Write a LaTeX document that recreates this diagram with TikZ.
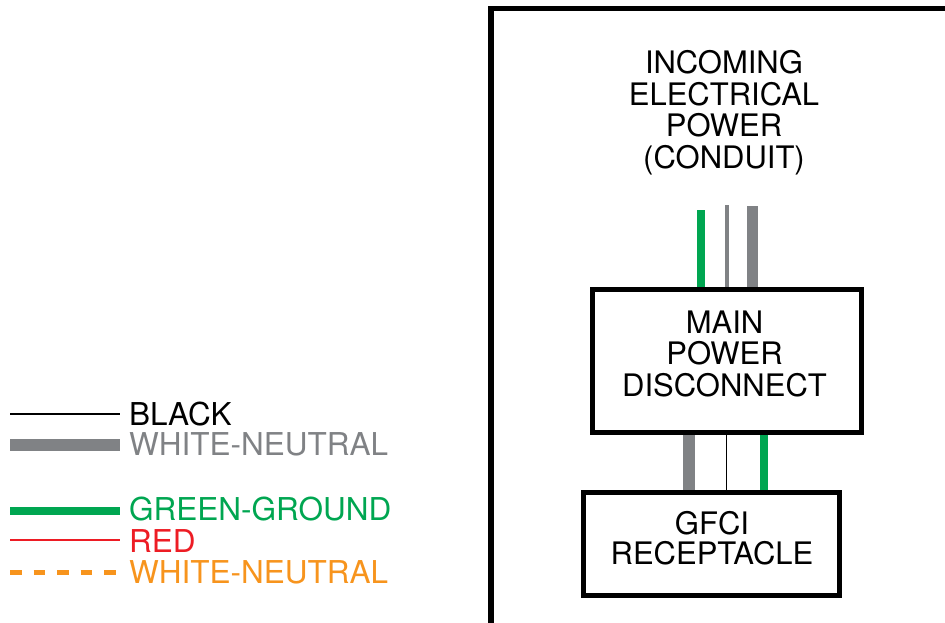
\documentclass[tikz,border=0pt]{standalone}
\usepackage{fontspec}
\setmainfont{TeX Gyre Heros}
\definecolor{wgray}{HTML}{808285}
\definecolor{wgreen}{HTML}{00A651}
\definecolor{wred}{HTML}{ED1C24}
\definecolor{worange}{HTML}{F7941D}
\tikzset{
  lbl/.style={inner sep=0pt, align=center},
  legtext/.style={inner sep=0pt, anchor=west, font=\fontsize{31.5}{32}\selectfont},
  boxnode/.style={draw=black, line width=5pt, inner sep=0pt},
  blackwire/.style={draw=black, line width=1.6pt},
  thingray/.style={draw=wgray, line width=4pt},
  graywire/.style={draw=wgray, line width=11.5pt},
  greenwire/.style={draw=wgreen, line width=8pt},
  redwire/.style={draw=wred, line width=2pt},
  orangewire/.style={draw=worange, line width=5pt, dash pattern=on 11.5pt off 12pt},
}
\begin{document}
\begin{tikzpicture}[x=1pt,y=-1pt]
\useasboundingbox (0,0) rectangle (945,623);
\clip (0,0) rectangle (945,623);

% outer frame
\draw[line width=5.5pt] (491,624.5) -- (491,8.5) -- (970,8.5);

% title
\node[lbl, font=\fontsize{31}{31.5}\selectfont] (incoming) at (724,112.5) {INCOMING\\ELECTRICAL\\POWER\\(CONDUIT)};

% boxes
\node[boxnode, minimum width=269pt, minimum height=143pt] (main) at (726.5,361) {};
\node[lbl, font=\fontsize{31}{31.5}\selectfont] (maintext) at (724.5,353.5) {MAIN\\POWER\\DISCONNECT};
\node[boxnode, minimum width=256pt, minimum height=103pt] (gfci) at (711.5,543.5) {};
\node[lbl, font=\fontsize{31}{30}\selectfont] (gfcitext) at (712,538) {GFCI\\RECEPTACLE};

% incoming wires
\coordinate (inG) at (700.5,210);
\coordinate (inW) at (727,205);
\coordinate (inN) at (752.7,206);
\draw[greenwire] (inG) -- (main.north -| inG);
\draw[thingray] (inW) -- (main.north -| inW);
\draw[graywire] (inN) -- (main.north -| inN);

% wires main -> gfci
\coordinate (xN) at (689,0);
\coordinate (xB) at (726.3,0);
\coordinate (xG) at (764,0);
\draw[graywire] (main.south -| xN) -- (gfci.north -| xN);
\draw[blackwire] (main.south -| xB) -- (gfci.north -| xB);
\draw[greenwire] (main.south -| xG) -- (gfci.north -| xG);

% legend
\coordinate (l1a) at (10,414); \coordinate (l1b) at (120,414);
\coordinate (l2a) at (10,445); \coordinate (l2b) at (120,445);
\coordinate (l3a) at (10,511); \coordinate (l3b) at (120,511);
\coordinate (l4a) at (10,539.5); \coordinate (l4b) at (120,539.5);
\coordinate (l5a) at (10,572); \coordinate (l5b) at (120,572);
\draw[blackwire] (l1a) -- (l1b);
\draw[graywire] (l2a) -- (l2b);
\draw[greenwire] (l3a) -- (l3b);
\draw[redwire] (l4a) -- (l4b);
\draw[orangewire] (l5a) -- (l5b);
\node[legtext] (t1) at (129,414) {BLACK};
\node[legtext, text=wgray] (t2) at (129,444) {WHITE-NEUTRAL};
\node[legtext, text=wgreen] (t3) at (129,509) {GREEN-GROUND};
\node[legtext, text=wred] (t4) at (129,541) {RED};
\node[legtext, text=worange] (t5) at (129,572) {WHITE-NEUTRAL};
\end{tikzpicture}
\end{document}
